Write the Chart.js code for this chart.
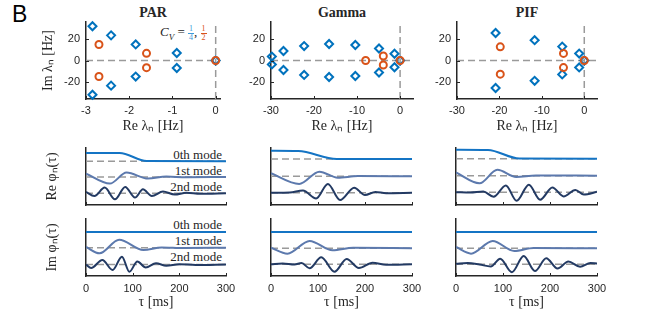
<!DOCTYPE html>
<html lang="en">
<head>
<meta charset="UTF-8" />
<title>Eigenvalues and modes</title>
<script src="https://cdn.jsdelivr.net/npm/chart.js"></script>
<style>
  body { margin: 0; background: white; }
  #fig {
    position: relative;
    width: 661px;
    height: 313px;
    overflow: hidden;
    font-family: 'Liberation Serif', 'Times New Roman', serif;
    color: #262626;
  }
  #fig canvas { position: absolute; }
  .lbl { position: absolute; white-space: nowrap; }
  .ptitle { position: absolute; top: 6px; text-align: center; font-weight: bold; font-size: 14px; line-height: 14px; }
  .mode { position: absolute; font-size: 13px; line-height: 13px; text-align: right; white-space: nowrap; }
  .frac { display: inline-block; vertical-align: middle; text-align: center; font-size: 8px; line-height: 8px; font-style: normal; }
  .frac span { display: block; padding: 0 1px; }
  .frac .num { border-bottom: 1px solid currentColor; }
</style>
</head>
<body>
<div id="fig">
  <div class="lbl" style="left:12px;top:1px;font:23px 'Liberation Sans', Arial, sans-serif;color:#000">B</div>

  <div class="ptitle" style="left:86px;width:134px">PAR</div>
  <div class="ptitle" style="left:271px;width:142px">Gamma</div>
  <div class="ptitle" style="left:457px;width:140px">PIF</div>

  <div class="lbl" style="left:160px;top:24px;font-size:13px;font-style:italic">C<sub style="font-size:9px">V</sub>
    <span style="font-style:normal">=</span>
    <span class="frac" style="color:#3d9ad9"><span class="num">1</span><span>4</span></span><span style="font-style:normal">,</span>
    <span class="frac" style="color:#D95319"><span class="num">1</span><span>2</span></span>
  </div>

  <div class="mode" style="right:439px;top:148px">0th mode</div>
  <div class="mode" style="right:439px;top:164px">1st mode</div>
  <div class="mode" style="right:439px;top:180px">2nd mode</div>
  <div class="mode" style="right:439px;top:218px">0th mode</div>
  <div class="mode" style="right:439px;top:234px">1st mode</div>
  <div class="mode" style="right:439px;top:250px">2nd mode</div>
</div>

<script>
  // eigenvalues [Re, Im] in Hz
  const parBlue = [[-2.85, 32], [-2.85, -32], [-2.42, 23.5], [-2.42, -23.5], [-1.85, 15], [-1.85, -15], [-0.9, 7], [-0.9, -7], [0, 0]];
  const parOrange = [[-2.7, 15], [-2.7, -15], [-1.6, 6.7], [-1.6, -6.7], [0, 0]];
  const gammaBlue = [[-29.8, 3.7], [-29.8, -3.7], [-27.1, 8.9], [-27.1, -8.9], [-22.3, 13.5], [-22.3, -13.5], [-16.5, 15.4], [-16.5, -15.4],
                     [-10.4, 14.5], [-10.4, -14.5], [-4.9, 11.2], [-4.9, -11.2], [-1.3, 6.3], [-1.3, -6.3], [0, 0]];
  const gammaOrange = [[-8, 0], [-3.9, 4.2], [-3.9, -4.2], [0, 0]];
  const pifBlue = [[-20.9, 25.7], [-20.9, -25.7], [-11.7, 19], [-11.7, -19], [-5.2, 13], [-5.2, -13], [-1.2, 6.5], [-1.2, -6.5], [0, 0]];
  const pifOrange = [[-19.8, 12.8], [-19.8, -12.8], [-4.9, 6.6], [-4.9, -6.6], [0, 0]];

  const parXRange = [-3, 0.1];
  const rateXRange = [-30, 3];
  const imRange = [-36, 36];
  const parXTicks = [-3, -2, -1, 0];
  const rateXTicks = [-30, -20, -10, 0];
  const imTicks = [-20, 0, 20];

  // mode shapes [tau ms, offset value] (modes stacked, arbitrary units)
  const tauRange = [0, 300];
  const tauTicks = [0, 100, 200, 300];
  const modeRange = [0, 57];

  const parRe0 = [[0, 52], [72, 52], [130, 44], [300, 43.7]];
  const parRe1 = [[0, 31.4], [51, 21.4], [87, 32.4], [133, 26.4], [172, 28.4], [215, 27.8], [300, 28]];
  const parRe2 = [[0, 13], [18, 9], [40, 17.4], [62, 5.7], [84, 18], [105, 7.4], [122, 15.7], [141, 9], [165, 13.4], [190, 10.5], [215, 12.2], [245, 11.2], [300, 11.7]];
  const parReBase = [43.7, 28, 11.7];

  const parIm0 = [[0, 44], [300, 44]];
  const parIm1 = [[0, 29], [29, 22.7], [71, 36.3], [123, 26], [162, 28.6], [210, 28], [300, 28.3]];
  const parIm2 = [[0, 11.5], [11, 8], [35, 16], [57, 6], [77, 19.3], [93, 4.3], [110, 14.5], [128, 8.6], [150, 12.8], [172, 10.3], [200, 11.8], [235, 11], [300, 11.5]];
  const parImBase = [44, 28.3, 11.5];

  const gamRe0 = [[0, 54.3], [58, 54], [140, 46], [300, 46]];
  const gamRe1 = [[0, 31.7], [60, 21], [103, 33.3], [142, 27.3], [185, 28.9], [300, 28.7]];
  const gamRe2 = [[0, 12.2], [40, 12.5], [68, 14.5], [96, 6.5], [121, 21], [147, 5], [177, 17.3], [200, 10], [222, 13], [245, 11.8], [300, 12.2]];
  const gamReBase = [46, 28.7, 12.2];

  const gamIm0 = [[0, 44], [300, 44]];
  const gamIm1 = [[0, 28.3], [35, 22.3], [82, 35], [131, 25.7], [175, 28.3], [300, 27.8]];
  const gamIm2 = [[0, 11.8], [25, 12.5], [50, 11.5], [65, 13], [82, 7.7], [107, 18.7], [135, 4.2], [161, 17], [187, 8], [216, 13.3], [245, 11.2], [300, 11.7]];
  const gamImBase = [44, 27.8, 11.7];

  const pifRe0 = [[0, 55.3], [68, 55], [135, 46.5], [300, 46.3]];
  const pifRe1 = [[0, 32.5], [50, 21.7], [88, 35.2], [128, 28], [170, 29.5], [300, 29.3]];
  const pifRe2 = [[0, 12.8], [30, 12.5], [58, 13.5], [80, 8.3], [106, 19.5], [129, 4.2], [155, 20.3], [179, 5.3], [205, 17.5], [229, 8.6], [254, 15], [272, 10.4], [300, 13.2]];
  const pifReBase = [46.3, 29.3, 12.7];

  const pifIm0 = [[0, 44], [300, 44]];
  const pifIm1 = [[0, 29], [32, 22.3], [78, 35], [124, 25], [165, 28], [300, 27.7]];
  const pifIm2 = [[0, 12.2], [25, 13], [50, 11.5], [74, 9.5], [94, 17.3], [119, 3.8], [144, 20], [168, 5], [192, 17.7], [216, 7.5], [239, 14.5], [264, 9.3], [286, 13], [300, 12.5]];
  const pifImBase = [44, 27.7, 11.7];

  const axisColor = '#262626';
  const dashColor = '#9a9a9a';
  const blue = '#0072BD';
  const orange = '#D95319';
  const modeColors = ['#1474c4', '#5c79ad', '#233a63'];
  const tickFont = { family: "'Liberation Sans', Arial, sans-serif", size: 11 };
  const titleFont = { family: "'Liberation Serif', 'Times New Roman', serif", size: 14 };

  const pts = arr => arr.map(([x, y]) => ({ x, y }));

  // matlab style ticks pointing into the plot
  const inTicks = {
    id: 'inTicks',
    afterDraw(chart, args, opts) {
      const { ctx, chartArea: a, scales: { x, y } } = chart;
      ctx.save();
      ctx.strokeStyle = axisColor;
      ctx.lineWidth = 1;
      if (opts.x) {
        x.ticks.forEach(t => {
          const px = Math.round(x.getPixelForValue(t.value)) + 0.5;
          ctx.beginPath(); ctx.moveTo(px, a.bottom); ctx.lineTo(px, a.bottom - 3); ctx.stroke();
        });
      }
      if (opts.y) {
        y.ticks.forEach(t => {
          const py = Math.round(y.getPixelForValue(t.value)) + 0.5;
          ctx.beginPath(); ctx.moveTo(a.left, py); ctx.lineTo(a.left + 3, py); ctx.stroke();
        });
      }
      ctx.restore();
    }
  };

  function axis(kind, size, range, vals, labels, title, pad) {
    return {
      type: 'linear',
      min: range[0],
      max: range[1],
      afterBuildTicks: s => { s.ticks = vals.map(v => ({ value: v })); },
      afterFit: s => {
        if (kind === 'x') { s.height = size; s.paddingLeft = 0; s.paddingRight = 0; }
        else { s.width = size; s.paddingTop = 0; s.paddingBottom = 0; }
      },
      grid: { drawOnChartArea: false, drawTicks: false },
      border: { color: axisColor, width: 1.5 },
      ticks: { display: labels, padding: pad, color: axisColor, font: tickFont, autoSkip: false, maxRotation: 0 },
      title: { display: !!title, text: title || '', color: axisColor, font: titleFont, padding: 0 }
    };
  }

  function makePanel(plot, yw, xh, padT, padR, xs, ys, datasets, tickOpts) {
    const w = yw + (plot.r - plot.l) + padR;
    const h = padT + (plot.b - plot.t) + xh;
    const c = document.createElement('canvas');
    c.width = w; c.height = h;
    c.style.left = (plot.l - yw) + 'px';
    c.style.top = (plot.t - padT) + 'px';
    c.style.width = w + 'px';
    c.style.height = h + 'px';
    document.getElementById('fig').appendChild(c);
    return new Chart(c, {
      type: 'scatter',
      data: { datasets },
      options: {
        responsive: false,
        animation: false,
        events: [],
        layout: { padding: { left: 0, top: padT, right: padR, bottom: 0 } },
        plugins: { legend: { display: false }, tooltip: { enabled: false }, inTicks: tickOpts },
        scales: { x: xs, y: ys }
      },
      plugins: [inTicks]
    });
  }

  function eigenPanel(plot, yw, xRange, xTicks, blues, oranges, yTitle) {
    const datasets = [
      { data: pts(oranges), pointStyle: 'circle', pointRadius: 3.5, borderColor: orange, backgroundColor: 'rgba(0,0,0,0)', borderWidth: 2, clip: false, order: 0 },
      { data: pts(blues), pointStyle: 'rectRot', pointRadius: 4, borderColor: blue, backgroundColor: 'rgba(0,0,0,0)', borderWidth: 2, clip: false, order: 1 },
      { data: pts([[xRange[0], 0], [xRange[1], 0]]), showLine: true, pointRadius: 0, borderColor: dashColor, borderWidth: 1.5, borderDash: [7, 4], order: 2 },
      { data: pts([[0, imRange[0]], [0, imRange[1]]]), showLine: true, pointRadius: 0, borderColor: dashColor, borderWidth: 1.5, borderDash: [7, 4], order: 2 }
    ];
    makePanel(plot, yw, 36, 8, 12,
      axis('x', 36, xRange, xTicks, true, 'Re λₙ [Hz]', 5),
      axis('y', yw, imRange, imTicks, true, yTitle, 6),
      datasets, { x: true, y: true });
  }

  function modePanel(plot, yw, xh, padR, modes, bases, showX, yTitle) {
    const datasets = modes.map((m, i) => ({
      data: pts(m), showLine: true, pointRadius: 0, borderColor: modeColors[i], borderWidth: 2,
      cubicInterpolationMode: 'monotone', order: 1
    }));
    bases.forEach(b => datasets.push({
      data: pts([[tauRange[0], b], [tauRange[1], b]]), showLine: true, pointRadius: 0,
      borderColor: dashColor, borderWidth: 1.5, borderDash: [7, 4], order: 2
    }));
    makePanel(plot, yw, xh, 4, padR,
      axis('x', xh, tauRange, tauTicks, showX, showX ? 'τ [ms]' : null, 6),
      axis('y', yw, modeRange, [0], false, yTitle, 0),
      datasets, { x: true, y: false });
  }

  // top row: eigenvalues
  eigenPanel({ l: 86, t: 22, r: 220, b: 99 }, 46, parXRange, parXTicks, parBlue, parOrange, 'Im λₙ [Hz]');
  eigenPanel({ l: 271, t: 22, r: 413, b: 99 }, 32, rateXRange, rateXTicks, gammaBlue, gammaOrange, null);
  eigenPanel({ l: 457, t: 22, r: 597, b: 99 }, 32, rateXRange, rateXTicks, pifBlue, pifOrange, null);

  // middle row: real part of modes
  modePanel({ l: 86, t: 148, r: 226, b: 205 }, 42, 3, 4, [parRe0, parRe1, parRe2], parReBase, false, 'Re φₙ(τ)');
  modePanel({ l: 271, t: 148, r: 412, b: 205 }, 10, 3, 4, [gamRe0, gamRe1, gamRe2], gamReBase, false, null);
  modePanel({ l: 456, t: 148, r: 597, b: 205 }, 10, 3, 4, [pifRe0, pifRe1, pifRe2], pifReBase, false, null);

  // bottom row: imaginary part of modes
  modePanel({ l: 86, t: 219, r: 226, b: 276 }, 42, 35, 12, [parIm0, parIm1, parIm2], parImBase, true, 'Im φₙ(τ)');
  modePanel({ l: 271, t: 219, r: 412, b: 276 }, 10, 35, 12, [gamIm0, gamIm1, gamIm2], gamImBase, true, null);
  modePanel({ l: 456, t: 219, r: 597, b: 276 }, 10, 35, 12, [pifIm0, pifIm1, pifIm2], pifImBase, true, null);
</script>
</body>
</html>
